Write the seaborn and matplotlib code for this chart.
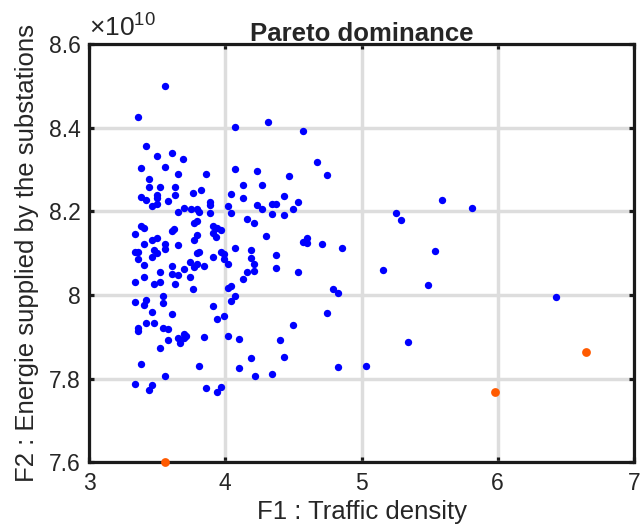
import matplotlib
matplotlib.use("Agg")
import matplotlib.pyplot as plt
import pandas as pd
import seaborn as sns

# Dominated solutions (F1 traffic density, F2 energy in units of 1e10)
traffic = [
    3.56, 3.36, 4.07, 3.42, 3.50, 3.61, 3.69, 3.38, 3.56, 3.65,
    3.86, 4.07, 4.23, 3.44, 3.44, 3.52, 3.63, 3.82, 3.76, 3.63,
    4.13, 4.04, 4.13, 3.38, 3.42, 3.50, 3.50, 3.58, 3.46, 3.50,
    3.89, 3.89, 4.02, 4.23, 3.70, 3.65, 3.75, 3.79, 3.81, 3.89,
    4.04, 4.16, 4.21, 3.38, 3.40, 3.34, 3.79, 3.77, 3.61, 3.62,
    3.91, 3.94, 3.97, 3.79, 3.77, 3.91, 3.93, 3.46, 3.50, 3.40,
    3.56, 3.56, 3.65, 3.34, 3.36, 3.48, 3.46, 3.50, 3.36, 3.40,
    3.79, 3.81, 3.91, 3.97, 3.99, 3.99, 4.02, 4.07, 4.19, 4.19,
    4.21, 4.21, 3.74, 3.79, 3.77, 3.84, 3.61, 3.52, 3.70, 3.61,
    3.65, 3.74, 3.40, 3.34, 3.48, 3.52, 3.63, 3.76, 4.16, 4.13,
    4.02, 4.04, 3.54, 4.07, 4.04, 3.34, 3.42, 3.40, 3.54, 3.46,
    3.61, 3.91, 3.94, 3.99, 3.42, 3.48, 3.36, 3.36, 3.54, 3.58,
    3.52, 3.58, 3.65, 3.70, 3.71, 3.67, 3.70, 3.84, 4.02, 4.10,
    4.19, 3.38, 3.81, 4.10, 3.56, 4.22, 3.34, 3.46, 3.44, 3.86,
    3.97, 3.94, 4.31, 4.57, 4.47, 4.67, 4.75, 4.27, 4.43, 4.53,
    4.34, 4.37, 4.27, 4.34, 4.43, 4.50, 4.30, 4.57, 4.60, 4.60,
    4.71, 4.86, 5.25, 5.29, 4.37, 4.37, 4.53, 5.16, 4.79, 4.83,
    4.75, 4.50, 4.40, 5.34, 4.43, 4.34, 4.83, 5.03, 5.59, 5.81,
    5.54, 5.49, 6.43,
]
energy = [
    8.500, 8.426, 8.401, 8.356, 8.333, 8.340, 8.325, 8.304, 8.307, 8.288,
    8.289, 8.300, 8.297, 8.277, 8.257, 8.259, 8.259, 8.251, 8.244, 8.240,
    8.263, 8.242, 8.231, 8.234, 8.226, 8.239, 8.232, 8.224, 8.212, 8.217,
    8.222, 8.216, 8.213, 8.214, 8.208, 8.199, 8.205, 8.205, 8.199, 8.195,
    8.195, 8.181, 8.172, 8.165, 8.159, 8.145, 8.177, 8.171, 8.153, 8.157,
    8.165, 8.159, 8.155, 8.143, 8.131, 8.147, 8.138, 8.131, 8.135, 8.122,
    8.121, 8.109, 8.119, 8.102, 8.103, 8.107, 8.091, 8.099, 8.085, 8.071,
    8.099, 8.103, 8.090, 8.103, 8.098, 8.086, 8.074, 8.111, 8.107, 8.089,
    8.073, 8.056, 8.079, 8.075, 8.066, 8.070, 8.069, 8.055, 8.061, 8.049,
    8.047, 8.042, 8.042, 8.031, 8.026, 8.030, 8.025, 8.015, 8.055, 8.038,
    8.016, 8.022, 7.998, 7.997, 7.986, 7.984, 7.988, 7.976, 7.980, 7.958,
    7.954, 7.974, 7.943, 7.950, 7.932, 7.932, 7.920, 7.914, 7.920, 7.919,
    7.872, 7.892, 7.898, 7.906, 7.901, 7.885, 7.896, 7.900, 7.902, 7.894,
    7.850, 7.834, 7.830, 7.826, 7.807, 7.806, 7.788, 7.784, 7.772, 7.777,
    7.780, 7.767, 8.413, 8.391, 8.285, 8.318, 8.287, 8.263, 8.236, 8.223,
    8.218, 8.218, 8.205, 8.193, 8.192, 8.205, 8.142, 8.126, 8.136, 8.125,
    8.122, 8.112, 8.196, 8.179, 8.095, 8.065, 8.054, 8.059, 8.013, 8.004,
    7.956, 7.928, 7.893, 7.887, 7.852, 7.811, 7.827, 7.830, 8.228, 8.208,
    8.104, 8.023, 7.994,
]

# Pareto front
front_traffic = [3.56, 5.98, 6.65]
front_energy = [7.600, 7.767, 7.863]

x_ticks = [3, 4, 5, 6, 7]
y_ticks = [7.6, 7.8, 8.0, 8.2, 8.4, 8.6]
y_tick_labels = ["7.6", "7.8", "8", "8.2", "8.4", "8.6"]

sns.set_style("white")
plt.rcParams["font.family"] = ["Liberation Sans", "DejaVu Sans"]
plt.rcParams["mathtext.fontset"] = "custom"
plt.rcParams["mathtext.rm"] = "Liberation Sans"

dots = pd.DataFrame({"F1": traffic, "F2": energy})
front = pd.DataFrame({"F1": front_traffic, "F2": front_energy})

fig = plt.figure(figsize=(6.41, 5.30), dpi=100)
ax = fig.add_axes([0.139, 0.128, 0.850, 0.789])

sns.scatterplot(data=dots, x="F1", y="F2", ax=ax, color="#0000ff",
                s=28, linewidth=0, zorder=3)
sns.scatterplot(data=front, x="F1", y="F2", ax=ax, color="#ff5a00",
                s=40, linewidth=0, zorder=5, clip_on=False)

ax.set_xlim(3, 7)
ax.set_ylim(7.6, 8.6)
ax.set_xticks(x_ticks)
ax.set_yticks(y_ticks)
ax.set_yticklabels(y_tick_labels)

ax.grid(True, color="#dddddd", linewidth=2.5)
ax.set_axisbelow(True)
for sp in ax.spines.values():
    sp.set_visible(True)
    sp.set_color("#1a1a1a")
    sp.set_linewidth(2.3)

ax.tick_params(direction="in", length=3.5, width=2.3, color="#1a1a1a",
               labelsize=16.5, labelcolor="#262626",
               top=True, right=True, bottom=True, left=True)
ax.tick_params(axis="x", pad=7)
ax.tick_params(axis="y", pad=6)

ax.set_xlabel("F1 : Traffic density", fontsize=18.5, color="#262626", labelpad=4)
ax.set_ylabel("F2 : Energie supplied by the substations", fontsize=18.5,
              color="#262626", labelpad=7)
ax.set_title("Pareto dominance", fontsize=18.5, fontweight="bold", pad=2)
ax.text(0.0, 1.017, r"$\mathregular{\times10^{10}}$", transform=ax.transAxes,
        fontsize=19, color="#262626", ha="left", va="baseline")

fig.savefig("out.png", dpi=100)
plt.close(fig)
